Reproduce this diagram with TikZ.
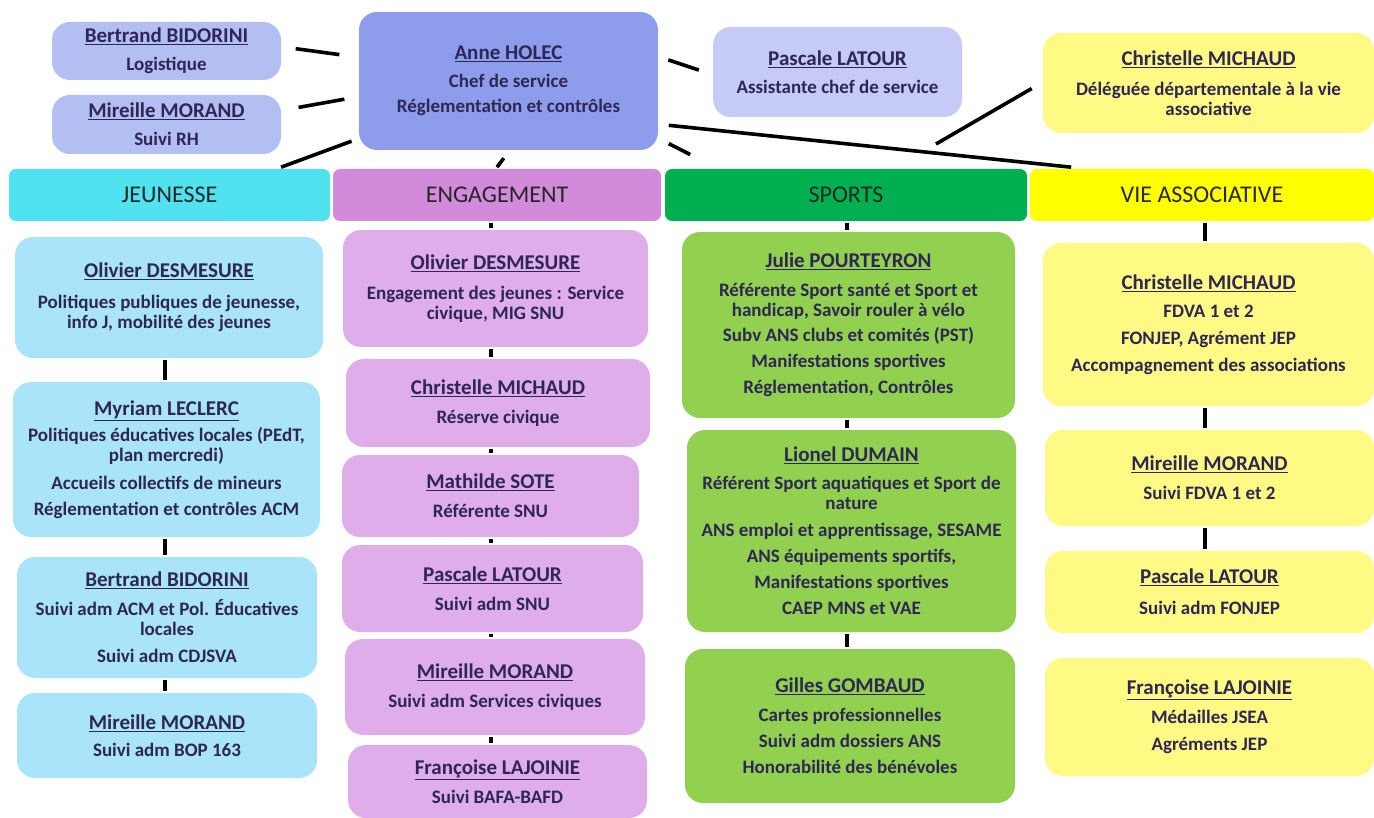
\documentclass[tikz,border=0pt]{standalone}
\usepackage{fontspec}
\setmainfont{Carlito}
\definecolor{ink}{HTML}{2E2654}
\definecolor{chefblue}{HTML}{8E9CEC}
\definecolor{staffblue}{HTML}{B3BEF3}
\definecolor{assistblue}{HTML}{C5CBF6}
\definecolor{jeunebar}{HTML}{50E3EF}
\definecolor{jeunebox}{HTML}{A9E4FA}
\definecolor{engbar}{HTML}{D28ADA}
\definecolor{engbox}{HTML}{DFADE9}
\definecolor{sportbar}{HTML}{00B050}
\definecolor{sportbox}{HTML}{92D050}
\definecolor{viebar}{HTML}{FFFF00}
\definecolor{viebox}{HTML}{FFFA84}
\newcommand{\nom}[1]{{\fontsize{21}{20}\selectfont\underline{#1}}}

\begin{document}
\begin{tikzpicture}
            [x=1pt, y=-1pt, line width=3.6pt,
             box/.style={rounded corners=18pt, inner sep=0pt, align=center, text=ink,
                         font=\bfseries\fontsize{19}{20}\selectfont},
             bar/.style={rounded corners=7pt, inner sep=0pt, minimum height=52pt,
                         text=black!85, font=\fontsize{24}{24}\selectfont}]
            \useasboundingbox (0,0) rectangle (1374,818);

            \node[box, fill=staffblue, minimum width=229pt, minimum height=58pt] (bertrand) at (166.5, 51) {\nom{Bertrand BIDORINI}\\[8pt] Logistique};
            \node[box, fill=staffblue, minimum width=229pt, minimum height=59pt] (rh) at (166.5, 124.5) {\nom{Mireille MORAND}\\[8pt] Suivi RH};
            \node[box, fill=chefblue, minimum width=299pt, minimum height=138pt] (anne) at (508.5, 81) {\nom{Anne HOLEC}\\[8pt] Chef de service\\[5pt] Réglementation et contrôles};
            \node[box, fill=assistblue, minimum width=249pt, minimum height=90pt] (pascale) at (837.5, 72) {\nom{Pascale LATOUR}\\[8pt] Assistante chef de service};
            \node[box, fill=viebox, minimum width=331pt, minimum height=100pt] (dva) at (1208.5, 83) {\nom{Christelle MICHAUD}\\[10pt] Déléguée départementale à la vie\\ associative};
            \coordinate (dvaend) at (936, 144);

            \node[bar, fill=jeunebar, minimum width=321pt] (jeunesse) at (169.5, 195) {JEUNESSE};
            \node[bar, fill=engbar, minimum width=328pt] (engagement) at (497, 195) {ENGAGEMENT};
            \node[bar, fill=sportbar, minimum width=362pt] (sports) at (846, 195) {SPORTS};
            \node[bar, fill=viebar, minimum width=344pt] (vie) at (1202, 195) {VIE ASSOCIATIVE};

            \node[box, fill=jeunebox, minimum width=308pt, minimum height=121pt] (j1) at (169, 297.5) {\nom{Olivier DESMESURE}\\[11pt] Politiques publiques de jeunesse,\\ info J, mobilité des jeunes};
            \node[box, fill=jeunebox, minimum width=307pt, minimum height=155pt] (j2) at (166.5, 459.5) {\nom{Myriam LECLERC}\\[6pt] Politiques éducatives locales (PEdT,\\ plan mercredi)\\[8pt] Accueils collectifs de mineurs\\[6pt] Réglementation et contrôles ACM};
            \node[box, fill=jeunebox, minimum width=300pt, minimum height=121pt] (j3) at (167, 617.5) {\nom{Bertrand BIDORINI}\\[9pt] Suivi adm ACM et Pol. Éducatives\\ locales\\[7pt] Suivi adm CDJSVA};
            \node[box, fill=jeunebox, minimum width=300pt, minimum height=85pt] (j4) at (167, 735.5) {\nom{Mireille MORAND}\\[7pt] Suivi adm BOP 163};

            \node[box, fill=engbox, minimum width=305pt, minimum height=117pt] (e1) at (495.5, 288.5) {\nom{Olivier DESMESURE}\\[10pt] Engagement des jeunes : Service\\ civique, MIG SNU};
            \node[box, fill=engbox, minimum width=304pt, minimum height=88pt] (e2) at (498, 403) {\nom{Christelle MICHAUD}\\[9pt] Réserve civique};
            \node[box, fill=engbox, minimum width=297pt, minimum height=82pt] (e3) at (490.5, 496) {\nom{Mathilde SOTE}\\[9pt] Référente SNU};
            \node[box, fill=engbox, minimum width=301pt, minimum height=87pt] (e4) at (492.5, 588.5) {\nom{Pascale LATOUR}\\[9pt] Suivi adm SNU};
            \node[box, fill=engbox, minimum width=300pt, minimum height=96pt] (e5) at (495, 687) {\nom{Mireille MORAND}\\[9pt] Suivi adm Services civiques};
            \node[box, fill=engbox, minimum width=299pt, minimum height=73pt] (e6) at (497.5, 781.5) {\nom{Françoise LAJOINIE}\\[9pt] Suivi BAFA-BAFD};

            \node[box, fill=sportbox, minimum width=333pt, minimum height=186pt] (s1) at (848.5, 325) {\nom{Julie POURTEYRON}\\[9pt] Référente Sport santé et Sport et\\ handicap, Savoir rouler à vélo\\[5pt] Subv ANS clubs et comités (PST)\\[6pt] Manifestations sportives\\[6pt] Réglementation, Contrôles};
            \node[box, fill=sportbox, minimum width=329pt, minimum height=202pt] (s2) at (851.5, 531) {\nom{Lionel DUMAIN}\\[8pt] Référent Sport aquatiques et Sport de\\ nature\\[7pt] ANS emploi et apprentissage, SESAME\\[6pt] ANS équipements sportifs,\\[6pt] Manifestations sportives\\[6pt] CAEP MNS et VAE};
            \node[box, fill=sportbox, minimum width=330pt, minimum height=154pt] (s3) at (850, 726) {\nom{Gilles GOMBAUD}\\[9pt] Cartes professionnelles\\[6pt] Suivi adm dossiers ANS\\[6pt] Honorabilité des bénévoles};

            \node[box, fill=viebox, minimum width=331pt, minimum height=163pt] (v1) at (1208.5, 324.5) {\nom{Christelle MICHAUD}\\[8pt] FDVA 1 et 2\\[7pt] FONJEP, Agrément JEP\\[7pt] Accompagnement des associations};
            \node[box, fill=viebox, minimum width=329pt, minimum height=96pt] (v2) at (1209.5, 478) {\nom{Mireille MORAND}\\[9pt] Suivi FDVA 1 et 2};
            \node[box, fill=viebox, minimum width=329pt, minimum height=82pt] (v3) at (1209.5, 592) {\nom{Pascale LATOUR}\\[11pt] Suivi adm FONJEP};
            \node[box, fill=viebox, minimum width=329pt, minimum height=118pt] (v4) at (1209.5, 717) {\nom{Françoise LAJOINIE}\\[9pt] Médailles JSEA\\[7pt] Agréments JEP};

            \coordinate (jx) at (165, 0);
            \coordinate (ex) at (491, 0);
            \coordinate (sx) at (847, 0);
            \coordinate (vx) at (1205, 0);

            \path [draw, shorten <=13pt, shorten >=18pt] (bertrand.2) -- (anne.171);
            \path [draw, shorten <=16pt, shorten >=13pt] (rh.7) -- (anne.186);
            \path [draw, shorten <=6pt] (anne.201) -- (jeunesse.14);
            \path [draw, shorten <=8pt] (anne.south) -- (engagement.north);
            \path [draw, shorten <=9pt, shorten >=13pt] (anne.9) -- (pascale.181);
            \path [draw, shorten <=10pt, shorten >=28pt] (anne.339) -- (sports.168);
            \path [draw, shorten <=9pt] (anne.344) -- (vie.168);
            \path [draw, shorten <=11pt] (dva.180) -- (dvaend);

            \path [draw] (j1.south -| jx) -- (j2.north -| jx);
            \path [draw] (j2.south -| jx) -- (j3.north -| jx);
            \path [draw] (j3.south -| jx) -- (j4.north -| jx);
            \path [draw] (engagement.south -| ex) -- (e1.north -| ex);
            \path [draw] (e1.south -| ex) -- (e2.north -| ex);
            \path [draw] (e2.south -| ex) -- (e3.north -| ex);
            \path [draw] (e3.south -| ex) -- (e4.north -| ex);
            \path [draw] (e4.south -| ex) -- (e5.north -| ex);
            \path [draw] (e5.south -| ex) -- (e6.north -| ex);
            \path [draw] (sports.south -| sx) -- (s1.north -| sx);
            \path [draw] (s1.south -| sx) -- (s2.north -| sx);
            \path [draw] (s2.south -| sx) -- (s3.north -| sx);
            \path [draw] (vie.south -| vx) -- (v1.north -| vx);
            \path [draw] (v1.south -| vx) -- (v2.north -| vx);
            \path [draw] (v2.south -| vx) -- (v3.north -| vx);
\end{tikzpicture}
\end{document}
